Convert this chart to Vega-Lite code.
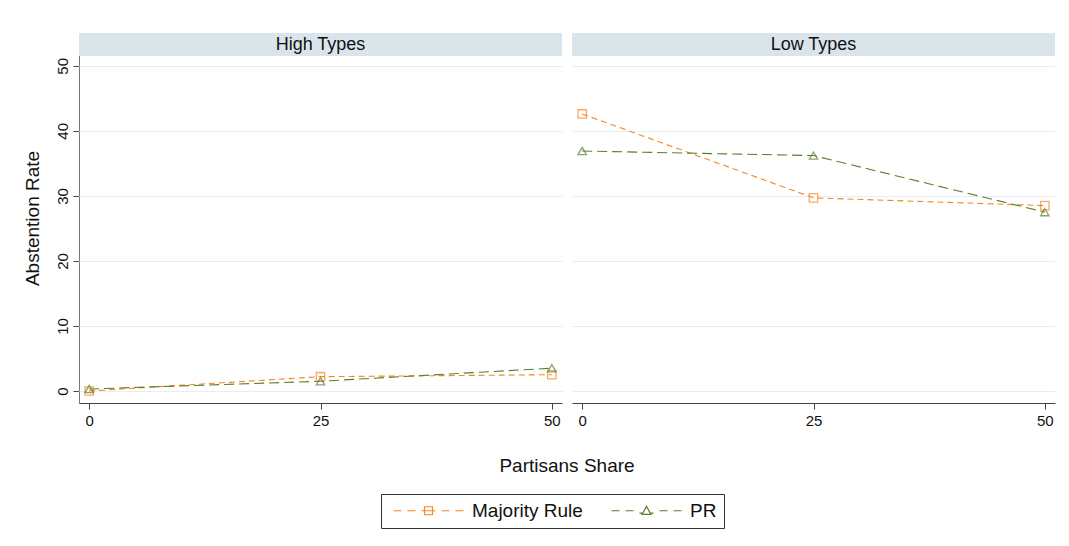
{
  "$schema": "https://vega.github.io/schema/vega-lite/v6.json",
  "background": "white",
  "padding": {"left": 23, "top": 33, "right": 10, "bottom": 5},
  "config": {
    "view": {"stroke": null},
    "font": "Liberation Sans",
    "axis": {"labelFont": "Liberation Sans", "titleFont": "Liberation Sans", "labelFontSize": 15, "titleFontSize": 19, "labelColor": "#111", "titleColor": "#111", "titleFontWeight": "normal", "domainColor": "#444", "tickColor": "#444", "gridColor": "#e6eef1", "tickSize": 6},
    "legend": {"labelFont": "Liberation Sans", "labelFontSize": 19, "labelColor": "#111"}
  },
  "data": {
    "values": [
      {"panel": "High Types", "share": 0, "rate": 0.0, "rule": "Majority Rule"},
      {"panel": "High Types", "share": 25, "rate": 2.2, "rule": "Majority Rule"},
      {"panel": "High Types", "share": 50, "rate": 2.5, "rule": "Majority Rule"},
      {"panel": "High Types", "share": 0, "rate": 0.3, "rule": "PR"},
      {"panel": "High Types", "share": 25, "rate": 1.5, "rule": "PR"},
      {"panel": "High Types", "share": 50, "rate": 3.5, "rule": "PR"},
      {"panel": "Low Types", "share": 0, "rate": 42.6, "rule": "Majority Rule"},
      {"panel": "Low Types", "share": 25, "rate": 29.7, "rule": "Majority Rule"},
      {"panel": "Low Types", "share": 50, "rate": 28.5, "rule": "Majority Rule"},
      {"panel": "Low Types", "share": 0, "rate": 36.9, "rule": "PR"},
      {"panel": "Low Types", "share": 25, "rate": 36.2, "rule": "PR"},
      {"panel": "Low Types", "share": 50, "rate": 27.5, "rule": "PR"}
    ]
  },
  "facet": {"column": {"field": "panel", "type": "nominal", "title": "Partisans Share",
    "header": {"labels": false, "titleOrient": "bottom", "titleFont": "Liberation Sans", "titleFontSize": 19, "titleColor": "#111", "titleFontWeight": "normal", "titlePadding": 19}}},
  "spacing": {"column": 10},
  "spec": {
    "width": 483,
    "height": 370,
    "layer": [
      {
        "transform": [{"filter": "datum.rule === 'Majority Rule'"}],
        "mark": {"type": "line", "strokeWidth": 1.1, "strokeDash": [6, 4]},
        "encoding": {
          "x": {"field": "share", "type": "quantitative", "scale": {"domain": [-1.1, 51.1], "nice": false, "zero": false},
                "axis": {"values": [0, 25, 50], "grid": false, "title": null, "labelPadding": 4}},
          "y": {"field": "rate", "type": "quantitative", "scale": {"domain": [-1.85, 55.05], "nice": false, "zero": false},
                "axis": {"values": [0, 10, 20, 30, 40, 50], "title": "Abstention Rate", "labelAngle": 270, "titlePadding": 13, "labelPadding": 3, "domainColor": "#777"}},
          "color": {"field": "rule", "type": "nominal", "scale": {"domain": ["Majority Rule", "PR"], "range": ["#f7861e", "#5b7d2d"]},
                    "legend": {"orient": "none", "legendX": 302, "legendY": 461, "title": null, "direction": "horizontal", "columns": 2,
                               "strokeColor": "#333", "padding": 7, "symbolSize": 64, "symbolOffset": 31, "labelOffset": 34, "columnPadding": 23,
                               "symbolStrokeWidth": 1.2,
                               "encode": {"symbols": {"update": {"shape": {"signal": "datum.value === 'PR' ? 'M-8.75,0H-6.75M-5.25,0H-3.25M-1.75,0.6H-1.1M1.1,0.6H1.75M0,-1.1L1.1,0.9H-1.1ZM3.25,0H5.25M6.75,0H8.75' : 'M-8.75,0H-6.75M-5.25,0H-3.25M-1.75,0H1.75M-1,-1H1V1H-1ZM3.25,0H5.25M6.75,0H8.75'"}, "fill": {"value": "transparent"}, "strokeDash": {"value": []}}}}}}
        }
      },
      {
        "transform": [{"filter": "datum.rule === 'PR'"}],
        "mark": {"type": "line", "strokeWidth": 1.1, "strokeDash": [10, 5]},
        "encoding": {
          "x": {"field": "share", "type": "quantitative"},
          "y": {"field": "rate", "type": "quantitative"},
          "color": {"field": "rule", "type": "nominal"}
        }
      },
      {
        "transform": [{"filter": "datum.rule === 'Majority Rule'"}],
        "mark": {"type": "point", "filled": false, "size": 70, "strokeWidth": 1.3, "shape": "square"},
        "encoding": {
          "x": {"field": "share", "type": "quantitative"},
          "y": {"field": "rate", "type": "quantitative"},
          "color": {"field": "rule", "type": "nominal"}
        }
      },
      {
        "transform": [{"filter": "datum.rule === 'PR'"}],
        "mark": {"type": "point", "filled": false, "size": 70, "strokeWidth": 1.3, "shape": "triangle-up"},
        "encoding": {
          "x": {"field": "share", "type": "quantitative"},
          "y": {"field": "rate", "type": "quantitative"},
          "color": {"field": "rule", "type": "nominal"}
        }
      },
      {
        "transform": [{"aggregate": [{"op": "count", "as": "n"}], "groupby": ["panel"]}],
        "mark": {"type": "rect", "color": "#d9e5eb"},
        "encoding": {
          "x": {"datum": -1.1, "type": "quantitative"},
          "x2": {"datum": 51.1},
          "y": {"datum": 51.5, "type": "quantitative"},
          "y2": {"datum": 55.05}
        }
      },
      {
        "transform": [{"aggregate": [{"op": "count", "as": "n"}], "groupby": ["panel"]}],
        "mark": {"type": "text", "fontSize": 18, "font": "Liberation Sans", "color": "#111"},
        "encoding": {
          "x": {"datum": 25, "type": "quantitative"},
          "y": {"datum": 53.27, "type": "quantitative"},
          "text": {"field": "panel"}
        }
      }
    ]
  }
}
